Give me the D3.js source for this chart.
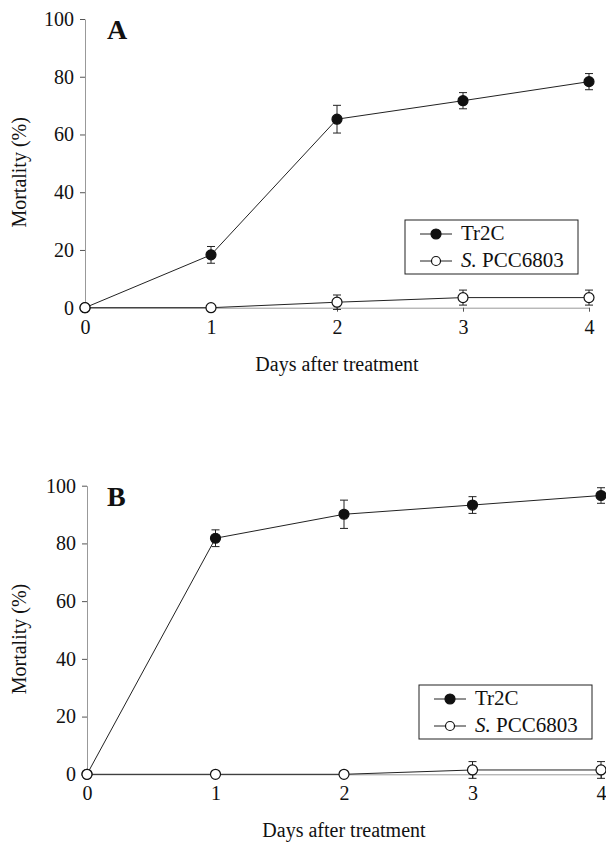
<!DOCTYPE html>
<html>
<head>
<meta charset="utf-8">
<script src="https://cdn.jsdelivr.net/npm/d3@7/dist/d3.min.js"></script>
<style>
  body { margin: 0; background: #fff; }
  svg { display: block; }
  text { font-family: "Liberation Serif", "Times New Roman", serif; fill: #111; }
</style>
</head>
<body>
<svg id="chart" width="606" height="845"></svg>
<script>
// data
const days = [0, 1, 2, 3, 4]
const yTicks = [0, 20, 40, 60, 80, 100]

const tr2cA = [0, 18.3, 65.3, 71.7, 78.3]
const tr2cErrA = [0, 2.9, 4.8, 2.8, 2.8]
const pccA = [0, 0, 1.9, 3.5, 3.5]
const pccErrA = [0, 0, 2.5, 2.6, 2.6]

const tr2cB = [0, 81.8, 90.1, 93.3, 96.6]
const tr2cErrB = [0, 2.9, 4.9, 2.9, 2.7]
const pccB = [0, 0, 0, 1.5, 1.5]
const pccErrB = [0, 0, 0, 2.9, 2.9]

const seriesNames = ['Tr2C', 'PCC6803']

const serif = '"Liberation Serif", "Times New Roman", serif'
const svg = d3.select('#chart')

// panel placement
const panels = [
  { letter: 'A', left: 85, right: 589, top: 19, bottom: 307.7,
    tr2c: tr2cA, tr2cErr: tr2cErrA, pcc: pccA, pccErr: pccErrA, legendX: 405, legendY: 220 },
  { letter: 'B', left: 87, right: 601, top: 485.7, bottom: 774.3,
    tr2c: tr2cB, tr2cErr: tr2cErrB, pcc: pccB, pccErr: pccErrB, legendX: 419, legendY: 685 }
]

function drawSeries(g, x, y, vals, errs, filled) {
  const pts = days.map((d, i) => ({ d: d, v: vals[i], e: errs[i] }))

  g.append('path')
    .datum(pts)
    .attr('fill', 'none')
    .attr('stroke', '#222')
    .attr('stroke-width', 1)
    .attr('d', d3.line().x(p => x(p.d)).y(p => y(p.v)))

  const eb = g.selectAll(null)
    .data(pts.filter(p => p.e > 0))
    .enter().append('g')
    .attr('stroke', '#222')
    .attr('stroke-width', 1)
  eb.append('line')
    .attr('x1', p => x(p.d)).attr('x2', p => x(p.d))
    .attr('y1', p => y(p.v - p.e)).attr('y2', p => y(p.v + p.e))
  eb.append('line')
    .attr('x1', p => x(p.d) - 4).attr('x2', p => x(p.d) + 4)
    .attr('y1', p => y(p.v + p.e)).attr('y2', p => y(p.v + p.e))
  eb.append('line')
    .attr('x1', p => x(p.d) - 4).attr('x2', p => x(p.d) + 4)
    .attr('y1', p => y(p.v - p.e)).attr('y2', p => y(p.v - p.e))

  g.selectAll(null)
    .data(pts)
    .enter().append('circle')
    .attr('cx', p => x(p.d))
    .attr('cy', p => y(p.v))
    .attr('r', 5)
    .attr('fill', filled ? '#111' : '#fff')
    .attr('stroke', '#111')
    .attr('stroke-width', 1.2)
}

panels.forEach(p => {
  const x = d3.scaleLinear().domain([0, 4]).range([p.left, p.right])
  const y = d3.scaleLinear().domain([0, 100]).range([p.bottom, p.top])
  const g = svg.append('g')

  // axes
  const xAxis = g.append('g')
    .attr('transform', 'translate(0,' + p.bottom + ')')
    .call(d3.axisBottom(x).tickValues(days).tickFormat(d3.format('d')).tickSizeInner(4).tickSizeOuter(0).tickPadding(8))
  const yAxis = g.append('g')
    .attr('transform', 'translate(' + p.left + ',0)')
    .call(d3.axisLeft(y).tickValues(yTicks).tickSizeInner(5).tickSizeOuter(0).tickPadding(6))
  ;[xAxis, yAxis].forEach(a => {
    a.attr('font-family', serif).attr('font-size', 20)
    a.select('.domain').attr('stroke', '#999')
    a.selectAll('.tick line').attr('stroke', '#555')
    a.selectAll('.tick text')
      .style('font-family', serif)
      .attr('fill', '#111')
  })

  // axis titles
  g.append('text')
    .attr('x', (p.left + p.right) / 2)
    .attr('y', p.bottom + 63)
    .attr('text-anchor', 'middle')
    .attr('font-size', 20)
    .text('Days after treatment')

  g.append('text')
    .attr('transform', 'translate(26,' + ((p.top + p.bottom) / 2 + 9) + ') rotate(-90)')
    .attr('text-anchor', 'middle')
    .attr('font-size', 20)
    .text('Mortality (%)')

  // panel letter
  g.append('text')
    .attr('x', 107)
    .attr('y', p.top + 20)
    .attr('font-size', 28)
    .attr('font-weight', 'bold')
    .text(p.letter)

  drawSeries(g, x, y, p.tr2c, p.tr2cErr, true)
  drawSeries(g, x, y, p.pcc, p.pccErr, false)

  // legend
  const lg = g.append('g').attr('transform', 'translate(' + p.legendX + ',' + p.legendY + ')')
  lg.append('rect')
    .attr('width', 173).attr('height', 54)
    .attr('fill', '#fff')
    .attr('stroke', '#222')
    .attr('stroke-width', 1)
  seriesNames.forEach((name, i) => {
    const ry = 14 + i * 27
    lg.append('line')
      .attr('x1', 15).attr('x2', 47)
      .attr('y1', ry).attr('y2', ry)
      .attr('stroke', '#222')
    lg.append('circle')
      .attr('cx', 31).attr('cy', ry)
      .attr('r', i === 0 ? 5 : 4.5)
      .attr('fill', i === 0 ? '#111' : '#fff')
      .attr('stroke', '#111')
      .attr('stroke-width', 1.2)
    const t = lg.append('text')
      .attr('x', 56)
      .attr('y', ry + 6)
      .attr('font-size', 21)
    if (i === 0) {
      t.text(name)
    } else {
      t.append('tspan').attr('font-style', 'italic').text('S.')
      t.append('tspan').text(' ' + name)
    }
  })
})
</script>
</body>
</html>
